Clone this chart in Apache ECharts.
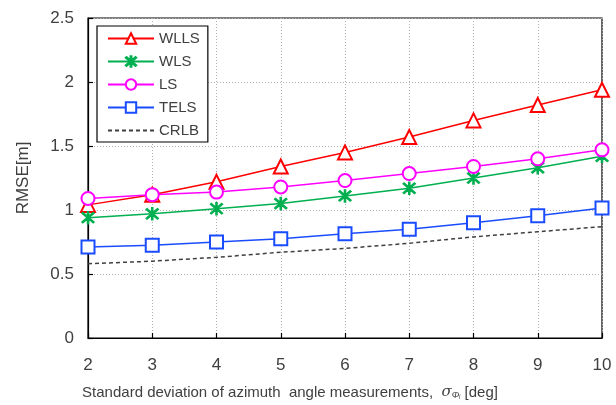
<!DOCTYPE html>
<html>
<head>
<meta charset="utf-8">
<script src="https://cdn.jsdelivr.net/npm/echarts@6/dist/echarts.min.js"></script>
<style>
  html, body { margin: 0; padding: 0; background: #fff; }
  #chart { width: 616px; height: 405px; }
</style>
</head>
<body>
<div id="chart"></div>
<script>
const sigma = [2, 3, 4, 5, 6, 7, 8, 9, 10];
const wlls = [1.04, 1.12, 1.22, 1.34, 1.45, 1.57, 1.70, 1.82, 1.94];
const wls = [0.94, 0.97, 1.01, 1.05, 1.11, 1.17, 1.25, 1.33, 1.42];
const ls = [1.09, 1.12, 1.14, 1.18, 1.23, 1.285, 1.34, 1.40, 1.47];
const tels = [0.71, 0.725, 0.75, 0.775, 0.815, 0.85, 0.90, 0.955, 1.015];
const crlb = [0.58, 0.60, 0.63, 0.67, 0.70, 0.74, 0.79, 0.83, 0.87];

const font = 'Liberation Sans, Arial, sans-serif';
const textColor = '#404040';
// asterisk marker: vertical bar plus an X
const star = 'path://M9.2 0L10.8 0L10.8 20L9.2 20Z M1.4 2.6L2.6 1.4L18.6 17.4L17.4 18.6Z M17.4 1.4L18.6 2.6L2.6 18.6L1.4 17.4Z';

function pairs(vals) {
  return sigma.map((s, i) => [s, vals[i]]);
}

function mk(name, vals, color, symbol, size) {
  return {
    name,
    type: 'line',
    data: pairs(vals),
    symbol,
    symbolSize: size,
    showAllSymbol: true,
    lineStyle: { color, width: 1.5 },
    itemStyle: { color, borderColor: color, borderWidth: 1.5 },
    emphasis: { disabled: true },
    z: 3
  };
}

const chart = echarts.init(document.getElementById('chart'), null, { renderer: 'canvas' });
const option = {
  animation: false,
  textStyle: { fontFamily: font },
  grid: { left: 88, right: 14, top: 18, bottom: 63, show: true, borderColor: '#000', borderWidth: 1.2, backgroundColor: 'transparent' },
  legend: {
    orient: 'vertical',
    left: 97,
    top: 26,
    padding: [5, 8, 4, 10],
    itemWidth: 46,
    itemHeight: 13,
    itemGap: 8,
    backgroundColor: '#fff',
    borderColor: '#000',
    borderWidth: 1.2,
    textStyle: { fontSize: 15, lineHeight: 13, color: textColor, fontFamily: font },
    data: ['WLLS', 'WLS', 'LS', 'TELS', { name: 'CRLB', itemStyle: { opacity: 0 } }]
  },
  xAxis: {
    type: 'value',
    min: 2,
    max: 10,
    interval: 1,
    name: 'Standard deviation of azimuth  angle measurements,  {s|σ}{sub|Φᵢ} [deg]',
    nameLocation: 'middle',
    nameGap: 47,
    nameTextStyle: {
      fontSize: 15, color: textColor, fontFamily: font,
      padding: [0, 110, 0, 0],
      rich: {
        s: { fontSize: 15, fontStyle: 'italic', color: textColor, fontFamily: 'DejaVu Serif' },
        sub: { fontSize: 9, fontStyle: 'italic', color: textColor, verticalAlign: 'bottom', padding: [6, 0, 0, 0] }
      }
    },
    axisLine: { lineStyle: { color: '#000', width: 1.2 } },
    axisTick: { inside: true, length: 5, lineStyle: { color: '#000', width: 1.2 } },
    axisLabel: { fontSize: 17, color: textColor, margin: 19, fontFamily: font },
    splitLine: { show: true, lineStyle: { color: '#b0b0b0', type: [1, 2], width: 1 } }
  },
  yAxis: {
    type: 'value',
    min: 0,
    max: 2.5,
    interval: 0.5,
    name: 'RMSE[m]',
    nameLocation: 'middle',
    nameGap: 56,
    nameTextStyle: { fontSize: 17, color: textColor, fontFamily: font },
    axisLine: { show: true, lineStyle: { color: '#000', width: 1.2 } },
    axisTick: { show: true, inside: true, length: 5, lineStyle: { color: '#000', width: 1.2 } },
    axisLabel: { fontSize: 17, color: textColor, margin: 14, fontFamily: font },
    splitLine: { show: true, lineStyle: { color: '#b0b0b0', type: [1, 2], width: 1 } }
  },
  series: [
    mk('WLLS', wlls, '#ff0000', 'emptyTriangle', 14),
    mk('WLS', wls, '#00b050', star, 12),
    mk('LS', ls, '#ff00ff', 'emptyCircle', 13),
    mk('TELS', tels, '#1a4cff', 'emptyRect', 13),
    {
      name: 'CRLB',
      type: 'line',
      data: pairs(crlb),
      symbol: 'none',
      lineStyle: { color: '#404040', width: 1.5, type: [4, 3] },
      itemStyle: { color: '#404040' },
      emphasis: { disabled: true },
      z: 2
    }
  ]
};
chart.setOption(option);
</script>
</body>
</html>
